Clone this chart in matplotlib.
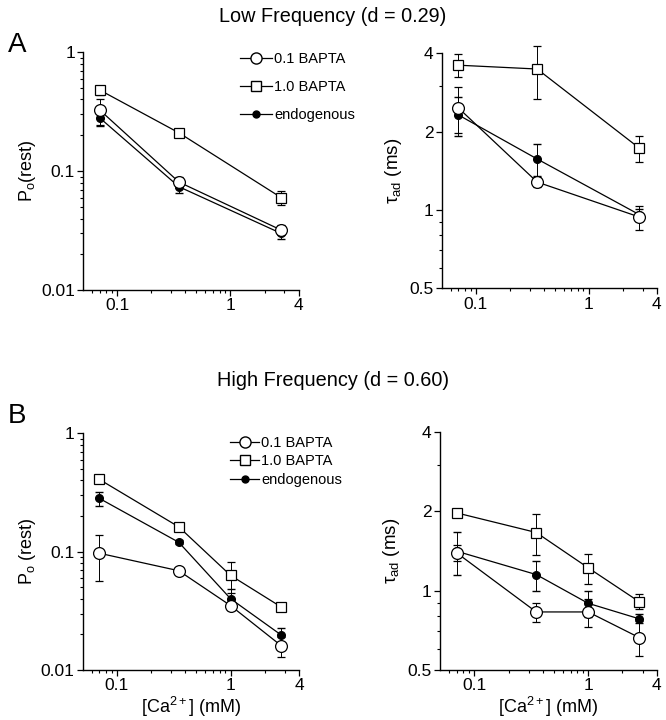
import matplotlib
matplotlib.use('Agg')
import matplotlib.pyplot as plt
import numpy as np
from matplotlib.ticker import FixedLocator, NullFormatter, FixedFormatter
from matplotlib.lines import Line2D

plt.rcParams['font.family'] = ['Liberation Sans', 'DejaVu Sans']
plt.rcParams['mathtext.fontset'] = 'custom'
plt.rcParams['mathtext.rm'] = 'Liberation Sans'
plt.rcParams['mathtext.it'] = 'Liberation Sans'

# [Ca2+] (mM)
ca = [0.07, 0.35, 1.0, 2.8]
ca_low = [0.07, 0.35, 2.8]

# A: low frequency, Po(rest)
po_low_01 = [0.326, 0.081, 0.032]
po_low_01_err = [0.08, 0.009, 0.003]
po_low_10 = [0.48, 0.21, 0.060]
po_low_10_err = [0.04, 0.01, 0.008]
po_low_en = [0.28, 0.074, 0.030]
po_low_en_err = [0.04, 0.008, 0.003]

# A: low frequency, tau_ad (ms)
tau_low_01 = [2.47, 1.28, 0.94]
tau_low_01_err = [0.5, 0.06, 0.1]
tau_low_10 = [3.6, 3.48, 1.73]
tau_low_10_err = [0.36, 0.8, 0.2]
tau_low_en = [2.32, 1.57, 0.96]
tau_low_en_err = [0.4, 0.22, 0.05]

# B: high frequency, Po(rest)
po_high_01 = [0.097, 0.069, 0.035, 0.016]
po_high_01_err = [0.04, 0.002, 0.002, 0.003]
po_high_10 = [0.408, 0.162, 0.063, 0.034]
po_high_10_err = [0.02, 0.005, 0.018, 0.001]
po_high_en = [0.282, 0.120, 0.040, 0.0197]
po_high_en_err = [0.039, 0.005, 0.008, 0.003]

# B: high frequency, tau_ad (ms)
tau_high_01 = [1.39, 0.83, 0.83, 0.664]
tau_high_01_err = [0.1, 0.07, 0.1, 0.1]
tau_high_10 = [1.97, 1.66, 1.22, 0.908]
tau_high_10_err = [0.03, 0.29, 0.16, 0.06]
tau_high_en = [1.41, 1.15, 0.895, 0.782]
tau_high_en_err = [0.26, 0.15, 0.1, 0.03]

labels = ['0.1 BAPTA', '1.0 BAPTA', 'endogenous']

fig = plt.figure(figsize=(6.66, 7.2), dpi=100)

pos = {
    'A_po': [0.125, 0.597, 0.3234, 0.3306],
    'A_tau': [0.6632, 0.5996, 0.3228, 0.3264],
    'B_po': [0.1242, 0.0694, 0.3248, 0.3288],
    'B_tau': [0.6607, 0.0694, 0.3254, 0.331],
}


def style(ax, kind):
    ax.set_xscale('log')
    ax.set_yscale('log')
    for s in ['top', 'right']:
        ax.spines[s].set_visible(False)
    ax.set_xlim(0.05, 4)
    ax.xaxis.set_major_locator(FixedLocator([0.1, 1, 4]))
    ax.xaxis.set_major_formatter(FixedFormatter(['0.1', '1', '4']))
    ax.xaxis.set_minor_locator(FixedLocator([0.06, 0.07, 0.08, 0.09, 0.2, 0.3, 0.4, 0.5,
                                             0.6, 0.7, 0.8, 0.9, 2, 3]))
    ax.xaxis.set_minor_formatter(NullFormatter())
    if kind == 'po':
        ax.set_ylim(0.01, 1)
        ax.yaxis.set_major_locator(FixedLocator([0.01, 0.1, 1]))
        ax.yaxis.set_major_formatter(FixedFormatter(['0.01', '0.1', '1']))
        ax.yaxis.set_minor_locator(FixedLocator([k * 10.0 ** e for e in (-2, -1) for k in range(2, 10)]))
    else:
        ax.set_ylim(0.5, 4)
        ax.yaxis.set_major_locator(FixedLocator([0.5, 1, 2, 4]))
        ax.yaxis.set_major_formatter(FixedFormatter(['0.5', '1', '2', '4']))
        ax.yaxis.set_minor_locator(FixedLocator([0.6, 0.7, 0.8, 0.9, 3]))
    ax.yaxis.set_minor_formatter(NullFormatter())
    ax.tick_params(which='major', length=4, width=0.9, labelsize=12.5, pad=2)
    ax.tick_params(which='minor', length=2, width=0.8)
    for s in ['left', 'bottom']:
        ax.spines[s].set_linewidth(1.0)


def plot_set(ax, x, y1, e1, y2, e2, y3, e3):
    ax.errorbar(x, y3, yerr=e3, color='black', lw=0.9, elinewidth=0.7, capsize=3,
                marker='o', ms=5.5, mfc='black', mec='black', zorder=2, clip_on=False)
    ax.errorbar(x, y2, yerr=e2, color='black', lw=0.9, elinewidth=0.7, capsize=3,
                marker='s', ms=7.5, mfc='white', mec='black', mew=0.9, zorder=3, clip_on=False)
    ax.errorbar(x, y1, yerr=e1, color='black', lw=0.9, elinewidth=0.7, capsize=3,
                marker='o', ms=8.5, mfc='white', mec='black', mew=0.9, zorder=4, clip_on=False)


axA1 = fig.add_axes(pos['A_po'])
plot_set(axA1, ca_low, po_low_01, po_low_01_err, po_low_10, po_low_10_err, po_low_en, po_low_en_err)
style(axA1, 'po')
axA1.set_ylabel('P$_\\mathrm{o}$(rest)', fontsize=13, labelpad=2)

axA2 = fig.add_axes(pos['A_tau'])
plot_set(axA2, ca_low, tau_low_01, tau_low_01_err, tau_low_10, tau_low_10_err, tau_low_en, tau_low_en_err)
style(axA2, 'tau')
axA2.set_ylabel('τ$_\\mathrm{ad}$ (ms)', fontsize=13.5, labelpad=4)

axB1 = fig.add_axes(pos['B_po'])
plot_set(axB1, ca, po_high_01, po_high_01_err, po_high_10, po_high_10_err, po_high_en, po_high_en_err)
style(axB1, 'po')
axB1.set_ylabel('P$_\\mathrm{o}$ (rest)', fontsize=13, labelpad=2)
axB1.set_xlabel('[Ca$^{2+}$] (mM)', fontsize=13, labelpad=1)

axB2 = fig.add_axes(pos['B_tau'])
plot_set(axB2, ca, tau_high_01, tau_high_01_err, tau_high_10, tau_high_10_err, tau_high_en, tau_high_en_err)
style(axB2, 'tau')
axB2.set_ylabel('τ$_\\mathrm{ad}$ (ms)', fontsize=13.5, labelpad=4)
axB2.set_xlabel('[Ca$^{2+}$] (mM)', fontsize=13, labelpad=1)

# legends
handles = [
    Line2D([], [], color='black', lw=0.9, marker='o', ms=8, mfc='white', mec='black'),
    Line2D([], [], color='black', lw=0.9, marker='s', ms=7, mfc='white', mec='black'),
    Line2D([], [], color='black', lw=0.9, marker='o', ms=5, mfc='black', mec='black'),
]
fig.legend(handles, labels, loc='upper left', bbox_to_anchor=(240 / 666, 1 - 52 / 720),
           frameon=False, fontsize=10.5, handlelength=2.2, handletextpad=0.15,
           labelspacing=0.95, borderpad=0, borderaxespad=0)
fig.legend(handles, labels, loc='upper left', bbox_to_anchor=(230 / 666, 1 - 436 / 720),
           frameon=False, fontsize=10.5, handlelength=2.0, handletextpad=0.15,
           labelspacing=0.3, borderpad=0, borderaxespad=0)

fig.text(0.5, 1 - 16 / 720, 'Low Frequency (d = 0.29)', ha='center', va='center', fontsize=14.3)
fig.text(0.5, 1 - 380 / 720, 'High Frequency (d = 0.60)', ha='center', va='center', fontsize=14.3)
fig.text(8 / 666, 1 - 45 / 720, 'A', ha='left', va='center', fontsize=20)
fig.text(8 / 666, 1 - 416 / 720, 'B', ha='left', va='center', fontsize=20)

fig.savefig('out.png', dpi=100)
